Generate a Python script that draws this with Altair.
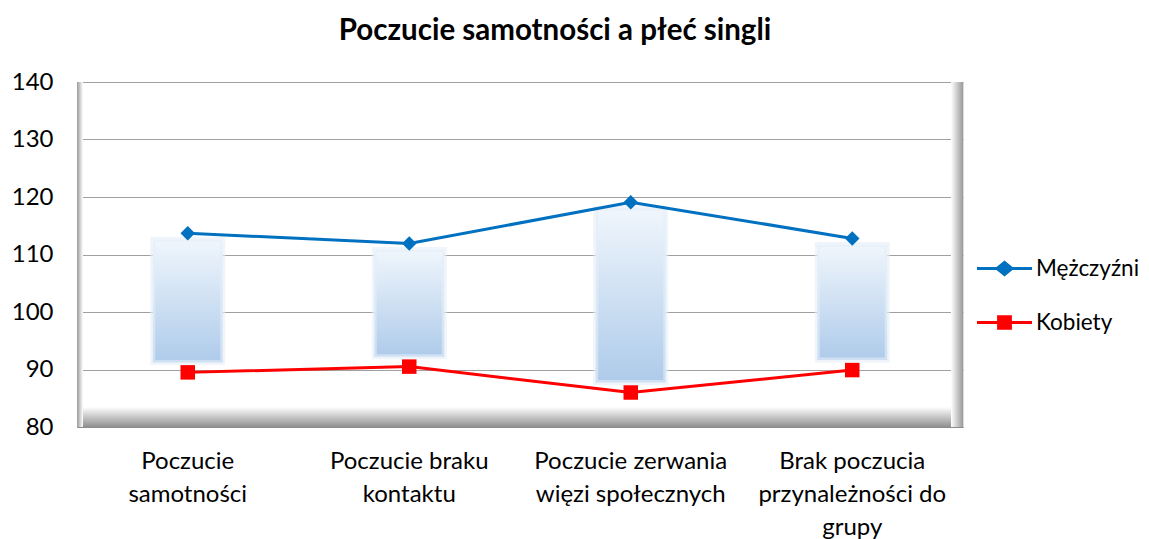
import altair as alt
import pandas as pd

categories = ["Poczucie\nsamotności", "Poczucie braku\nkontaktu",
              "Poczucie zerwania\nwięzi społecznych", "Brak poczucia\nprzynależności do\ngrupy"]
series_names = ["Mężczyźni", "Kobiety"]
men = [113.7, 111.9, 119.1, 112.8]
women = [89.5, 90.5, 86.0, 89.9]
y_ticks = [80, 90, 100, 110, 120, 130, 140]

W, H = 886, 345
FONT = "Lato"
BLUE, RED = "#0070c0", "#ff0000"

long_rows = []
for c, m, w in zip(categories, men, women):
    long_rows.append({"cat": c, "series": "Mężczyźni", "value": m})
    long_rows.append({"cat": c, "series": "Kobiety", "value": w})
long_df = pd.DataFrame(long_rows)
wide_df = pd.DataFrame({"cat": categories, "men": men, "women": women})

xenc = alt.X("cat:N", sort=categories, title=None,
             scale=alt.Scale(paddingInner=0, paddingOuter=0),
             axis=alt.Axis(labelExpr="split(datum.label, '\\n')", labelAngle=0,
                           labelFontSize=24, labelFont=FONT, labelColor="#000000",
                           labelLineHeight=33, labelPadding=22, ticks=False,
                           domainColor="#8c8c8c", labelLimit=400, grid=False))
yscale = alt.Scale(domain=[80, 140], nice=False, zero=False)
yenc = alt.Y("value:Q", scale=yscale, title=None,
             axis=alt.Axis(values=y_ticks, labelFontSize=24, labelFont=FONT,
                           labelColor="#000000", ticks=False, labelPadding=24,
                           domainColor="#a0a0a0", gridColor="#a0a0a0", gridWidth=1))

color_scale = alt.Scale(domain=series_names, range=[BLUE, RED])

def grad(c1, c2, horizontal=False):
    return alt.LinearGradient(
        gradient="linear",
        stops=[alt.GradientStop(color=c1, offset=0), alt.GradientStop(color=c2, offset=1)],
        x1=0, y1=0, x2=1 if horizontal else 0, y2=0 if horizontal else 1)

base_deco = alt.Chart(pd.DataFrame({"d": [0]}))
floor = base_deco.mark_rect(fill=grad("#ffffff", "#8f8f8f")).encode(
    x=alt.value(0), x2=alt.value(W), y=alt.value(H - 20), y2=alt.value(H))
left_wall = base_deco.mark_rect(fill=grad("#9a9a9a", "#ffffff", True)).encode(
    x=alt.value(0), x2=alt.value(6), y=alt.value(0), y2=alt.value(H))
right_wall = base_deco.mark_rect(fill=grad("#ffffff", "#9a9a9a", True)).encode(
    x=alt.value(W - 12), x2=alt.value(W), y=alt.value(0), y2=alt.value(H))

bars = alt.Chart(wide_df).mark_bar(
    width=70, fill=grad("#f0f6fc", "#aecbea"), yOffset=6, y2Offset=-10,
    stroke="#e4eef8", strokeWidth=5, strokeOpacity=0.6
).encode(x=xenc, y=alt.Y("men:Q", scale=yscale, title=None), y2="women:Q")

def series_layers(name, color, shape):
    src = alt.Chart(long_df).transform_filter(alt.datum.series == name)
    ln = src.mark_line(strokeWidth=3, color=color).encode(x=xenc, y=yenc)
    pt = src.mark_point(shape=shape, size=210, filled=True, opacity=1, color=color).encode(
        x=xenc, y=yenc)
    return [ln, pt]

diamond_path = ("M-1,-0.055L-0.29,-0.055L0,-0.29L0.29,-0.055L1,-0.055L1,0.055"
                "L0.29,0.055L0,0.29L-0.29,0.055L-1,0.055Z")
square_path = ("M-1,-0.055L-0.27,-0.055L-0.27,-0.26L0.27,-0.26L0.27,-0.055L1,-0.055"
               "L1,0.055L0.27,0.055L0.27,0.26L-0.27,0.26L-0.27,0.055L-1,0.055Z")

legend = alt.Legend(title=None, orient="none", legendX=900, legendY=159,
                    symbolSize=3025, symbolStrokeWidth=0, labelFontSize=22.5,
                    labelFont=FONT, labelColor="#000000", labelOffset=4,
                    rowPadding=15, padding=0, symbolOpacity=1, labelLimit=300)
leg_layer = alt.Chart(long_df).mark_point(filled=True, opacity=0, size=10).encode(
    x=xenc, y=yenc,
    color=alt.Color("series:N", scale=color_scale, legend=legend),
    shape=alt.Shape("series:N", scale=alt.Scale(domain=series_names,
                                                range=[diamond_path, square_path]),
                    legend=legend))

layers = [floor, left_wall, right_wall, bars]
layers += series_layers("Mężczyźni", BLUE, "diamond")
layers += series_layers("Kobiety", RED, "square")
layers.append(leg_layer)

chart = alt.layer(*layers).properties(
    width=W, height=H,
    title=alt.Title("Poczucie samotności a płeć singli", fontSize=29.5, font=FONT,
                    fontWeight="bold", color="#000000", anchor="middle", dx=35, offset=24),
    autosize=alt.AutoSizeParams(type="none"),
    padding={"left": 69, "top": 74, "right": 177, "bottom": 116},
).configure_view(stroke="#a6a6a6").configure(background="#ffffff")

chart.save("out.html", embed_options={"renderer": "svg", "actions": False})
